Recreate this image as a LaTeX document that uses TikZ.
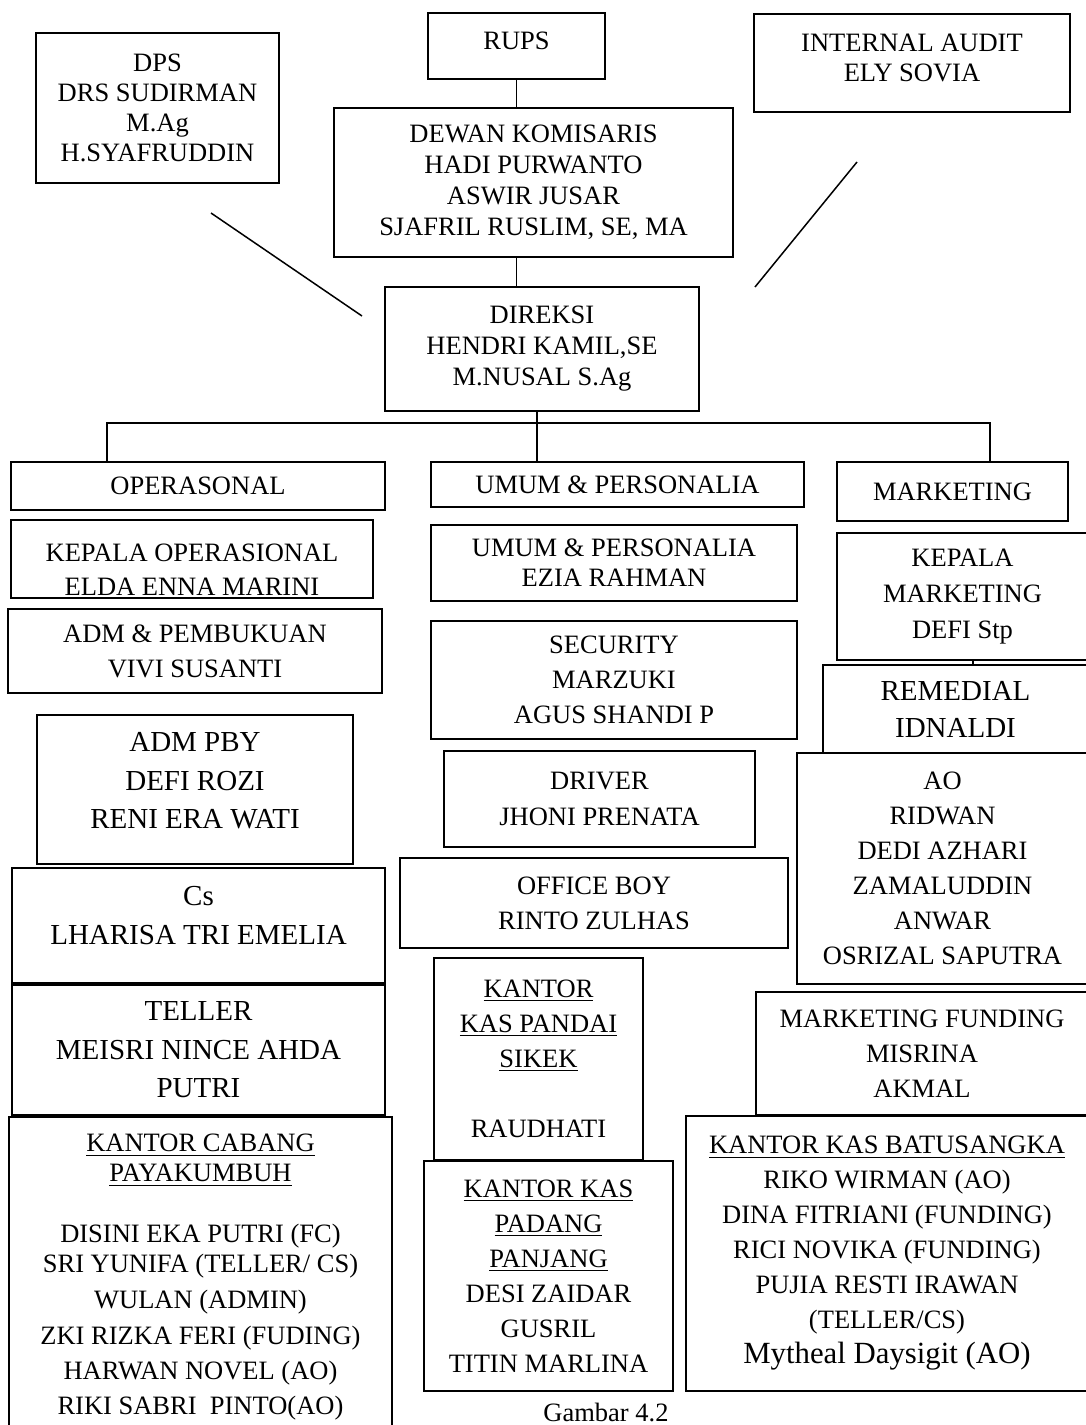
\documentclass[tikz,border=0pt]{standalone}
\usepackage{fontspec}
\setmainfont{Liberation Serif}

\begin{document}
\begin{tikzpicture}[x=0.5pt,y=-0.5pt,
  org/.style={draw,fill=white,line width=0.75pt,inner sep=0pt,align=center,font=\fontsize{13.25}{15}\selectfont},
  orgmid/.style={org,font=\fontsize{13.25}{15.5}\selectfont},
  orgwide/.style={org,font=\fontsize{13.25}{17.5}\selectfont},
  orgbig/.style={org,font=\fontsize{14.5}{19.25}\selectfont},
  link/.style={line width=0.75pt}
]
\useasboundingbox (0,0) rectangle (1086,1425);
\clip (0,0) rectangle (1086,1425);

% top level
\node[org,minimum width=121.5pt,minimum height=75pt] (dps) at (157.5,108) {DPS\\DRS SUDIRMAN\\M.Ag\\H.SYAFRUDDIN};
\node[org,minimum width=88.5pt,minimum height=33pt,text depth=5.5pt] (rups) at (516.5,46) {RUPS};
\node[org,minimum width=158pt,minimum height=49pt,text depth=5.5pt] (audit) at (912,63) {INTERNAL AUDIT\\ELY SOVIA};
\node[orgmid,minimum width=199.5pt,minimum height=74.5pt] (dewan) at (533.5,182.5) {DEWAN KOMISARIS\\HADI PURWANTO\\ASWIR JUSAR\\SJAFRIL RUSLIM, SE, MA};
\node[orgmid,minimum width=157pt,minimum height=62pt] (direksi) at (542,349) {DIREKSI\\HENDRI KAMIL,SE\\M.NUSAL S.Ag};

\draw[link] (rups.south) -- (rups.south |- dewan.north);
\draw[link] (dewan.south -| rups.south) -- (direksi.north -| rups.south);
\coordinate (dpsline) at (211,213);
\coordinate (dirline) at (362,316);
\coordinate (audline) at (857,162);
\coordinate (dirline2) at (755,287);
\draw[link] (dpsline) -- (dirline);
\draw[link] (audline) -- (dirline2);

% divisions
\node[org,minimum width=187pt,minimum height=24pt] (ops) at (198,486) {OPERASONAL};
\node[org,minimum width=186.5pt,minimum height=22.5pt] (umum) at (617.5,484.5) {UMUM \& PERSONALIA};
\node[org,minimum width=115.5pt,minimum height=29.5pt] (mkt) at (952.5,491.5) {MARKETING};

\coordinate (busl) at (107,423);
\coordinate (busm) at (537,423);
\coordinate (busr) at (990,423);
\draw[link] (busl |- ops.north) -- (busl) -- (busr) -- (busr |- mkt.north);
\draw[link] (direksi.south -| busm) -- (busm) -- (busm |- umum.north);

% operasional column
\node[org,font=\fontsize{13.25}{17}\selectfont,minimum width=181pt,minimum height=39pt] (kop) at (192,559) {\rule{0pt}{19.5pt}KEPALA OPERASIONAL\\ELDA ENNA MARINI};
\node[orgwide,minimum width=187pt,minimum height=42pt] (admp) at (195,651) {ADM \& PEMBUKUAN\\VIVI SUSANTI};
\node[orgbig,minimum width=158pt,minimum height=74.5pt,text depth=9pt] (admpby) at (195,789.5) {ADM PBY\\DEFI ROZI\\RENI ERA WATI};
\node[orgbig,font=\fontsize{14.5}{19.5}\selectfont,minimum width=186.5pt,minimum height=57.5pt,text depth=10pt] (cs) at (198.5,925.5) {Cs\\LHARISA TRI EMELIA};
\node[orgbig,minimum width=186.5pt,minimum height=65pt] (teller) at (198.5,1050) {TELLER\\MEISRI NINCE AHDA\\PUTRI};
\node[org,minimum width=191.5pt,minimum height=160.5pt] (cabang) at (200.5,1277.5) {\underline{KANTOR CABANG}\\\underline{PAYAKUMBUH}\\[15.5pt]DISINI EKA PUTRI (FC)\\SRI YUNIFA (TELLER/ CS)\\[3pt]WULAN (ADMIN)\\[3pt]ZKI RIZKA FERI (FUDING)\\[2.5pt]HARWAN NOVEL (AO)\\[2.5pt]RIKI SABRI\ \ PINTO(AO)};

% umum column
\node[org,minimum width=183pt,minimum height=38pt] (ezia) at (614,563) {UMUM \& PERSONALIA\\EZIA RAHMAN};
\node[orgwide,minimum width=183pt,minimum height=59pt] (sec) at (614,680) {SECURITY\\MARZUKI\\AGUS SHANDI P};
\node[org,font=\fontsize{13.25}{18}\selectfont,minimum width=155.5pt,minimum height=48pt] (drv) at (599.5,799) {DRIVER\\JHONI PRENATA};
\node[orgwide,minimum width=194pt,minimum height=45pt] (ob) at (594,903) {OFFICE BOY\\RINTO ZULHAS};
\node[orgwide,minimum width=104.5pt,minimum height=101pt] (pandai) at (538.5,1059) {\underline{KANTOR}\\\underline{KAS PANDAI}\\\underline{SIKEK}\\[17.5pt]RAUDHATI};
\node[orgwide,minimum width=124.5pt,minimum height=115pt] (padang) at (548.5,1276) {\underline{KANTOR KAS}\\\underline{PADANG}\\\underline{PANJANG}\\DESI ZAIDAR\\GUSRIL\\TITIN MARLINA};

% marketing column
\node[org,font=\fontsize{13.25}{18}\selectfont,minimum width=125.5pt,minimum height=63.5pt] (kmkt) at (962.5,596.5) {KEPALA\\MARKETING\\DEFI Stp};
\node[orgbig,font=\fontsize{14.5}{18.5}\selectfont,minimum width=132.5pt,minimum height=44pt] (rem) at (955.5,709) {REMEDIAL\\IDNALDI};
\coordinate (kmrem) at (973,0);
\draw[link] (kmkt.south -| kmrem) -- (rem.north -| kmrem);
\node[orgwide,minimum width=145.5pt,minimum height=115.5pt] (ao) at (942.5,868.5) {AO\\RIDWAN\\DEDI AZHARI\\ZAMALUDDIN\\ANWAR\\OSRIZAL SAPUTRA};
\node[orgwide,minimum width=166pt,minimum height=61.5pt] (mf) at (922,1053.5) {MARKETING FUNDING\\MISRINA\\AKMAL};
\node[orgwide,minimum width=201pt,minimum height=137.5pt] (batu) at (887,1253.5) {\underline{KANTOR KAS BATUSANGKA}\\RIKO WIRMAN (AO)\\DINA FITRIANI (FUNDING)\\RICI NOVIKA (FUNDING)\\PUJIA RESTI IRAWAN\\(TELLER/CS)\\{\fontsize{15.4}{17.5}\selectfont Mytheal Daysigit (AO)}};

\node[anchor=north,inner sep=0pt,font=\fontsize{13.25}{15}\selectfont] (caption) at (606,1403) {Gambar 4.2};
\end{tikzpicture}
\end{document}
